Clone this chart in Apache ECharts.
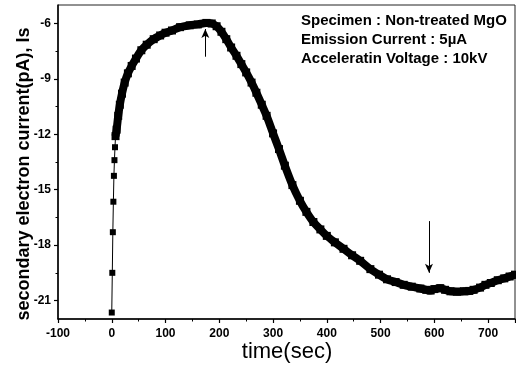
<!DOCTYPE html>
<html>
<head>
<meta charset="utf-8">
<script src="https://cdn.jsdelivr.net/npm/echarts@6/dist/echarts.min.js"></script>
<style>html,body{margin:0;padding:0;background:#fff}#c{width:516px;height:374px}</style>
</head>
<body>
<div id="c"></div>
<script>
// Early (sparse) points at switch-on
var earlyTime = [0, 1, 2, 3, 4, 5, 6, 7];
var earlyCurrent = [-21.65, -19.5, -17.3, -15.65, -14.25, -13.4, -12.7, -12.1];
// Main continuous curve
var timeSec = [7, 9, 12, 15, 19, 24, 30, 37, 45, 55, 65, 78, 90, 100, 112, 127, 145, 160, 176, 186, 195, 204, 213, 222, 232, 241, 250, 260, 269, 279, 288, 300, 311, 322, 336, 350, 362, 375, 388, 400, 415, 431, 447, 462, 481, 497, 512, 528, 543, 558, 574, 585, 593, 600, 611, 620, 630, 642, 655, 665, 673, 685, 695, 705, 718, 730, 740, 750];
var current = [-12.1, -11.75, -11.0, -10.4, -9.8, -9.2, -8.7, -8.3, -7.9, -7.45, -7.15, -6.85, -6.65, -6.5, -6.38, -6.2, -6.1, -6.05, -5.97, -6.0, -6.15, -6.45, -6.85, -7.3, -7.75, -8.2, -8.65, -9.2, -9.75, -10.4, -11.0, -11.95, -12.8, -13.7, -14.75, -15.6, -16.2, -16.75, -17.15, -17.5, -17.85, -18.2, -18.55, -18.85, -19.3, -19.6, -19.85, -20.0, -20.15, -20.25, -20.35, -20.42, -20.46, -20.38, -20.33, -20.42, -20.5, -20.52, -20.5, -20.48, -20.42, -20.3, -20.15, -20.05, -19.9, -19.8, -19.7, -19.6];
// Axis ticks
var xMin = -100, xMax = 750, xStep = 100;
var yMin = -22, yMax = -5;
var yTicks = [-21, -18, -15, -12, -9, -6];
var yMinorTicks = [-19.5, -16.5, -13.5, -10.5, -7.5];
// Arrow annotations [time, fromValue, toValue]
var arrow1 = [174, -7.8, -6.3];
var arrow2 = [590, -16.7, -19.5];
var infoLines = ['Specimen : Non-treated MgO', 'Emission Current : 5\u00b5A', 'Acceleratin Voltage : 10kV'];

var FONT = '"Liberation Sans", Arial, Helvetica, sans-serif';
function pairs(xs, ys) { return xs.map(function (x, i) { return [x, ys[i]]; }); }

var chart = echarts.init(document.getElementById('c'), null, { renderer: 'canvas' });
var graphics = infoLines.map(function (t, i) {
  return { type: 'text', left: 301, top: 13 + i * 19.3,
    style: { text: t, font: 'bold 15px ' + FONT, fill: '#000' } };
});
graphics.push({ type: 'text', x: 24, y: 174, rotation: Math.PI / 2,
  style: { text: 'secondary electron current(pA), Is', font: 'bold 18px ' + FONT, fill: '#000', align: 'center', verticalAlign: 'middle' } });
graphics.push({ type: 'text', x: 287, y: 352,
  style: { text: 'time(sec)', font: '22px ' + FONT, fill: '#000', align: 'center', verticalAlign: 'middle' } });

chart.setOption({
  animation: false,
  backgroundColor: '#fff',
  grid: { left: 58, right: 1, top: 5, bottom: 55, show: true, borderColor: '#222', borderWidth: 1, backgroundColor: 'transparent' },
  xAxis: {
    type: 'value', min: xMin, max: xMax, interval: xStep,
    axisLine: { show: true, onZero: false, lineStyle: { color: '#000', width: 1.5 } },
    axisTick: { show: true, inside: false, length: 4, lineStyle: { color: '#000', width: 1.2 } },
    minorTick: { show: true, splitNumber: 2, length: 2.5, lineStyle: { color: '#000', width: 1 } },
    axisLabel: { showMaxLabel: false, margin: 9, color: '#000', fontFamily: FONT, fontWeight: 'bold', fontSize: 12 },
    splitLine: { show: false }
  },
  yAxis: [{
    type: 'value', min: yMin, max: yMax, position: 'left',
    axisLine: { show: true, onZero: false, lineStyle: { color: '#000', width: 1.5 } },
    axisTick: { show: true, inside: false, length: 4, customValues: yTicks, lineStyle: { color: '#000', width: 1.2 } },
    axisLabel: { customValues: yTicks, margin: 7, color: '#000', fontFamily: FONT, fontWeight: 'bold', fontSize: 12 },
    splitLine: { show: false }
  }, {
    type: 'value', min: yMin, max: yMax, position: 'left', offset: 0,
    axisLine: { show: false, onZero: false },
    axisTick: { show: true, inside: false, length: 2.5, customValues: yMinorTicks, lineStyle: { color: '#000', width: 1 } },
    axisLabel: { show: false },
    splitLine: { show: false }
  }],
  series: [{
    type: 'line', data: pairs(earlyTime, earlyCurrent), yAxisIndex: 0,
    symbol: 'rect', symbolSize: 6, showSymbol: true,
    lineStyle: { color: '#000', width: 1 }, itemStyle: { color: '#000' }, silent: true, z: 3
  }, {
    type: 'line', data: pairs(timeSec, current), yAxisIndex: 0,
    symbol: 'rect', symbolSize: 8, showSymbol: true, smooth: 0.3,
    lineStyle: { color: '#000', width: 8 }, itemStyle: { color: '#000' }, silent: true, z: 3,
    markLine: {
      silent: true, symbol: ['none', 'arrow'], symbolSize: [6, 9],
      label: { show: false },
      lineStyle: { color: '#000', width: 1, type: 'solid' },
      data: [
        [{ coord: [arrow1[0], arrow1[1]] }, { coord: [arrow1[0], arrow1[2]] }],
        [{ coord: [arrow2[0], arrow2[1]] }, { coord: [arrow2[0], arrow2[2]] }]
      ]
    }
  }],
  graphic: graphics
});
</script>
</body>
</html>
